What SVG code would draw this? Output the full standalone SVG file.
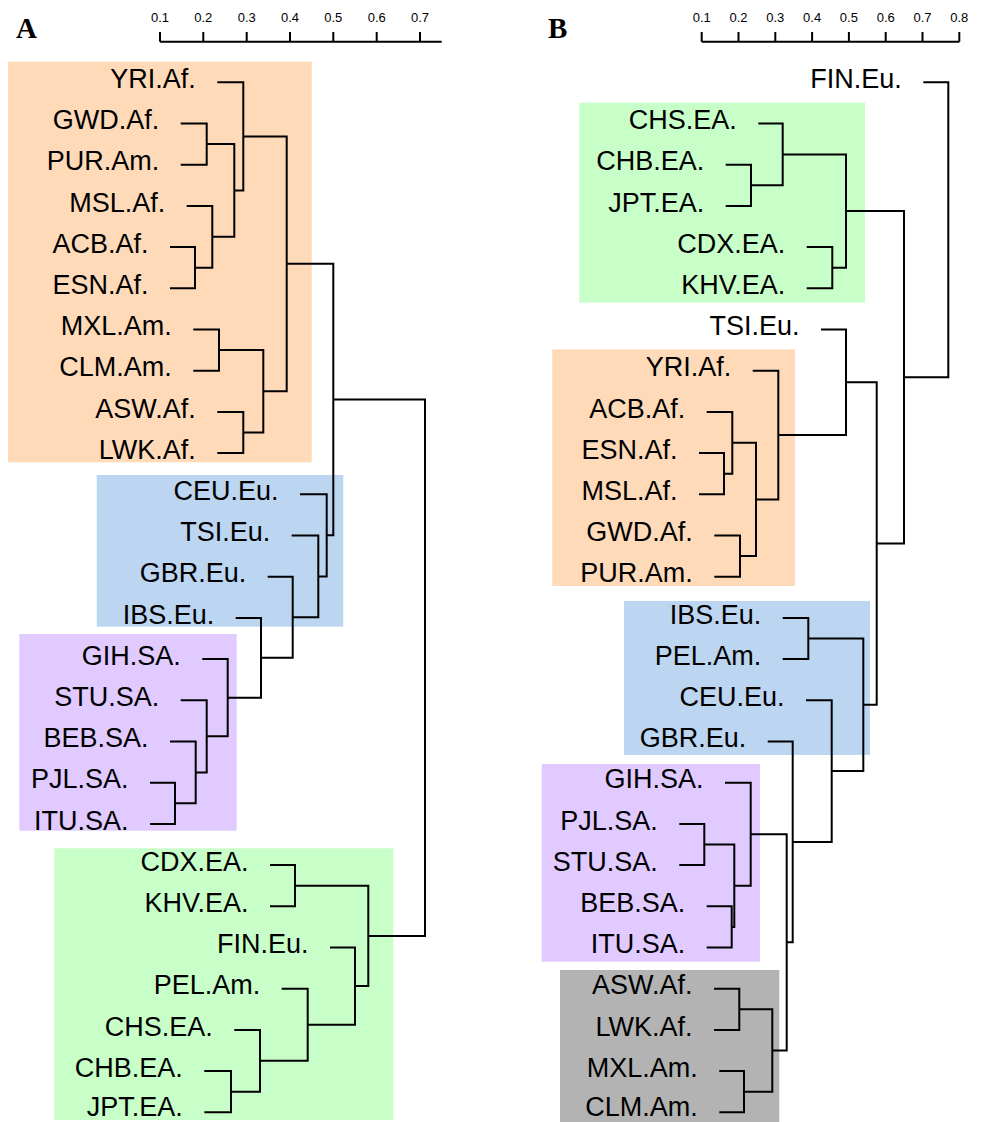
<svg xmlns="http://www.w3.org/2000/svg" width="981" height="1122" viewBox="0 0 981 1122">
<style>
.lbl{font-family:"Liberation Sans",Arial,sans-serif;font-size:27px;fill:#000;text-anchor:end}
.tk{font-family:"Liberation Sans",Arial,sans-serif;font-size:13px;fill:#000;text-anchor:middle}
.pl{font-family:"Liberation Serif","Times New Roman",serif;font-size:29px;font-weight:bold;fill:#000}
.br{fill:none;stroke:#000;stroke-width:2}
.or{fill:#FFDAB9}.bl{fill:#BCD5F1}.pu{fill:#E1CAFF}.gr{fill:#C8FFC8}.gy{fill:#B3B3B3}
</style>
<rect width="981" height="1122" fill="#fff"/>
<g id="panel-labels">
<text class="pl" x="16" y="38">A</text>
<text class="pl" x="548" y="38">B</text>
</g>
<g id="scale-A">
<path class="br" d="M160 41.7H441.7M160 32V41.7M203.3 32V41.7M246.7 32V41.7M290 32V41.7M333.3 32V41.7M376.7 32V41.7M420 32V41.7"/>
<text class="tk" x="160" y="22">0.1</text><text class="tk" x="203.3" y="22">0.2</text><text class="tk" x="246.7" y="22">0.3</text><text class="tk" x="290" y="22">0.4</text><text class="tk" x="333.3" y="22">0.5</text><text class="tk" x="376.7" y="22">0.6</text><text class="tk" x="420" y="22">0.7</text>
</g>
<g id="scale-B">
<path class="br" d="M701.7 41.7H959.3M701.7 32V41.7M738.5 32V41.7M775.3 32V41.7M812.1 32V41.7M848.9 32V41.7M885.7 32V41.7M922.5 32V41.7M959.3 32V41.7"/>
<text class="tk" x="701.7" y="22">0.1</text><text class="tk" x="738.5" y="22">0.2</text><text class="tk" x="775.3" y="22">0.3</text><text class="tk" x="812.1" y="22">0.4</text><text class="tk" x="848.9" y="22">0.5</text><text class="tk" x="885.7" y="22">0.6</text><text class="tk" x="922.5" y="22">0.7</text><text class="tk" x="959.3" y="22">0.8</text>
</g>
<g id="clusters">
<rect id="A-africa" class="or" x="8" y="61.7" width="303.7" height="400.6"/>
<rect id="A-europe" class="bl" x="96.7" y="475" width="246.6" height="151.7"/>
<rect id="A-southasia" class="pu" x="19.3" y="634" width="217.4" height="196.7"/>
<rect id="A-eastasia" class="gr" x="54.3" y="848.3" width="339" height="271.7"/>
<rect id="B-eastasia" class="gr" x="579.3" y="102.7" width="285.7" height="200"/>
<rect id="B-africa" class="or" x="552.3" y="349.3" width="242.7" height="236.7"/>
<rect id="B-europe" class="bl" x="624" y="601" width="246" height="154"/>
<rect id="B-southasia" class="pu" x="541.7" y="764" width="218.3" height="197.7"/>
<rect id="B-admixed" class="gy" x="560" y="970" width="219.3" height="152"/>
</g>
<g id="connectors">
<path class="br" d="M180.7 123.5H206.7V164.7H180.7"/>
<path class="br" d="M170 247.1H195V288.3H170"/>
<path class="br" d="M186.7 205.9H212.3V267.7H195"/>
<path class="br" d="M206.7 144.1H234.3V236.8H212.3"/>
<path class="br" d="M217.3 82.3H243.3V190.45H234.3"/>
<path class="br" d="M193.3 329.5H219V370.7H193.3"/>
<path class="br" d="M217.3 411.9H243.3V453.1H217.3"/>
<path class="br" d="M219 350.1H263.3V432.5H243.3"/>
<path class="br" d="M243.3 136.4H286.7V391.3H263.3"/>
<path class="br" d="M150 782.7H175V823.9H150"/>
<path class="br" d="M170 741.5H195.7V803.3H175"/>
<path class="br" d="M180.7 700.3H206.7V772.4H195.7"/>
<path class="br" d="M202.3 659.1H227.7V736.35H206.7"/>
<path class="br" d="M235.7 617.9H261V697.7H227.7"/>
<path class="br" d="M267.7 576.7H292.7V657.8H261"/>
<path class="br" d="M291.7 535.5H318.3V617.25H292.7"/>
<path class="br" d="M300 494.3H326.7V576.4H318.3"/>
<path class="br" d="M286.7 263.85H333.3V535.35H326.7"/>
<path class="br" d="M204.3 1071.1H231V1112.3H204.3"/>
<path class="br" d="M234.3 1029.9H260V1091.7H231"/>
<path class="br" d="M281.7 988.7H307.7V1060.8H260"/>
<path class="br" d="M330 947.5H355V1024.75H307.7"/>
<path class="br" d="M270 865.1H295V906.3H270"/>
<path class="br" d="M295 885.7H368.3V986.1H355"/>
<path class="br" d="M333.3 399.6H425V935.9H368.3"/>
<path class="br" d="M725.7 164.7H751V205.9H725.7"/>
<path class="br" d="M758.3 123.5H782.7V185.3H751"/>
<path class="br" d="M806.7 247.1H832.3V288.3H806.7"/>
<path class="br" d="M782.7 154.4H846V267.7H832.3"/>
<path class="br" d="M699 453.1H724V494.3H699"/>
<path class="br" d="M706.7 411.9H732.3V473.7H724"/>
<path class="br" d="M714.3 535.5H740V576.7H714.3"/>
<path class="br" d="M732.3 442.8H756V556.1H740"/>
<path class="br" d="M752.7 370.7H778.3V499.45H756"/>
<path class="br" d="M821 329.5H846V435.1H778.3"/>
<path class="br" d="M782.7 617.9H808.3V659.1H782.7"/>
<path class="br" d="M679.3 823.9H704.3V865.1H679.3"/>
<path class="br" d="M706.7 906.3H731.7V947.5H706.7"/>
<path class="br" d="M704.3 844.5H734.3V926.9H731.7"/>
<path class="br" d="M725 782.7H750.7V885.7H734.3"/>
<path class="br" d="M714 988.7H739.3V1029.9H714"/>
<path class="br" d="M719.3 1071.1H744V1112.3H719.3"/>
<path class="br" d="M739.3 1009.3H772.3V1091.7H744"/>
<path class="br" d="M750.7 834.2H786.7V1050.5H772.3"/>
<path class="br" d="M767.7 741.5H792.7V942.35H786.7"/>
<path class="br" d="M806 700.3H831.7V841.9H792.7"/>
<path class="br" d="M808.3 638.5H863.3V771.1H831.7"/>
<path class="br" d="M846 382.3H876.7V704.8H863.3"/>
<path class="br" d="M846 211.05H904V543.55H876.7"/>
<path class="br" d="M923.3 82.3H948.3V377.3H904"/>
</g>
<g id="A-YRI"><text class="lbl" x="195.8" y="88">YRI.Af.</text></g>
<g id="A-GWD"><text class="lbl" x="159.2" y="129.2">GWD.Af.</text></g>
<g id="A-PUR"><text class="lbl" x="159.2" y="170.4">PUR.Am.</text></g>
<g id="A-MSL"><text class="lbl" x="165.2" y="211.6">MSL.Af.</text></g>
<g id="A-ACB"><text class="lbl" x="148.5" y="252.8">ACB.Af.</text></g>
<g id="A-ESN"><text class="lbl" x="148.5" y="294">ESN.Af.</text></g>
<g id="A-MXL"><text class="lbl" x="171.8" y="335.2">MXL.Am.</text></g>
<g id="A-CLM"><text class="lbl" x="171.8" y="376.4">CLM.Am.</text></g>
<g id="A-ASW"><text class="lbl" x="195.8" y="417.6">ASW.Af.</text></g>
<g id="A-LWK"><text class="lbl" x="195.8" y="458.8">LWK.Af.</text></g>
<g id="A-CEU"><text class="lbl" x="278.5" y="500">CEU.Eu.</text></g>
<g id="A-TSI"><text class="lbl" x="270.2" y="541.2">TSI.Eu.</text></g>
<g id="A-GBR"><text class="lbl" x="246.2" y="582.4">GBR.Eu.</text></g>
<g id="A-IBS"><text class="lbl" x="214.2" y="623.6">IBS.Eu.</text></g>
<g id="A-GIH"><text class="lbl" x="180.8" y="664.8">GIH.SA.</text></g>
<g id="A-STU"><text class="lbl" x="159.2" y="706">STU.SA.</text></g>
<g id="A-BEB"><text class="lbl" x="148.5" y="747.2">BEB.SA.</text></g>
<g id="A-PJL"><text class="lbl" x="128.5" y="788.4">PJL.SA.</text></g>
<g id="A-ITU"><text class="lbl" x="128.5" y="829.6">ITU.SA.</text></g>
<g id="A-CDX"><text class="lbl" x="248.5" y="870.8">CDX.EA.</text></g>
<g id="A-KHV"><text class="lbl" x="248.5" y="912">KHV.EA.</text></g>
<g id="A-FIN"><text class="lbl" x="308.5" y="953.2">FIN.Eu.</text></g>
<g id="A-PEL"><text class="lbl" x="260.2" y="994.4">PEL.Am.</text></g>
<g id="A-CHS"><text class="lbl" x="212.8" y="1035.6">CHS.EA.</text></g>
<g id="A-CHB"><text class="lbl" x="182.8" y="1076.8">CHB.EA.</text></g>
<g id="A-JPT"><text class="lbl" x="182.8" y="1116">JPT.EA.</text></g>
<g id="B-FIN"><text class="lbl" x="901.8" y="88">FIN.Eu.</text></g>
<g id="B-CHS"><text class="lbl" x="736.8" y="129.2">CHS.EA.</text></g>
<g id="B-CHB"><text class="lbl" x="704.2" y="170.4">CHB.EA.</text></g>
<g id="B-JPT"><text class="lbl" x="704.2" y="211.6">JPT.EA.</text></g>
<g id="B-CDX"><text class="lbl" x="785.2" y="252.8">CDX.EA.</text></g>
<g id="B-KHV"><text class="lbl" x="785.2" y="294">KHV.EA.</text></g>
<g id="B-TSI"><text class="lbl" x="799.5" y="335.2">TSI.Eu.</text></g>
<g id="B-YRI"><text class="lbl" x="731.2" y="376.4">YRI.Af.</text></g>
<g id="B-ACB"><text class="lbl" x="685.2" y="417.6">ACB.Af.</text></g>
<g id="B-ESN"><text class="lbl" x="677.5" y="458.8">ESN.Af.</text></g>
<g id="B-MSL"><text class="lbl" x="677.5" y="500">MSL.Af.</text></g>
<g id="B-GWD"><text class="lbl" x="692.8" y="541.2">GWD.Af.</text></g>
<g id="B-PUR"><text class="lbl" x="692.8" y="582.4">PUR.Am.</text></g>
<g id="B-IBS"><text class="lbl" x="761.2" y="623.6">IBS.Eu.</text></g>
<g id="B-PEL"><text class="lbl" x="761.2" y="664.8">PEL.Am.</text></g>
<g id="B-CEU"><text class="lbl" x="784.5" y="706">CEU.Eu.</text></g>
<g id="B-GBR"><text class="lbl" x="746.2" y="747.2">GBR.Eu.</text></g>
<g id="B-GIH"><text class="lbl" x="703.5" y="788.4">GIH.SA.</text></g>
<g id="B-PJL"><text class="lbl" x="657.8" y="829.6">PJL.SA.</text></g>
<g id="B-STU"><text class="lbl" x="657.8" y="870.8">STU.SA.</text></g>
<g id="B-BEB"><text class="lbl" x="685.2" y="912">BEB.SA.</text></g>
<g id="B-ITU"><text class="lbl" x="685.2" y="953.2">ITU.SA.</text></g>
<g id="B-ASW"><text class="lbl" x="692.5" y="994.4">ASW.Af.</text></g>
<g id="B-LWK"><text class="lbl" x="692.5" y="1035.6">LWK.Af.</text></g>
<g id="B-MXL"><text class="lbl" x="697.8" y="1076.8">MXL.Am.</text></g>
<g id="B-CLM"><text class="lbl" x="697.8" y="1116">CLM.Am.</text></g>
</svg>
